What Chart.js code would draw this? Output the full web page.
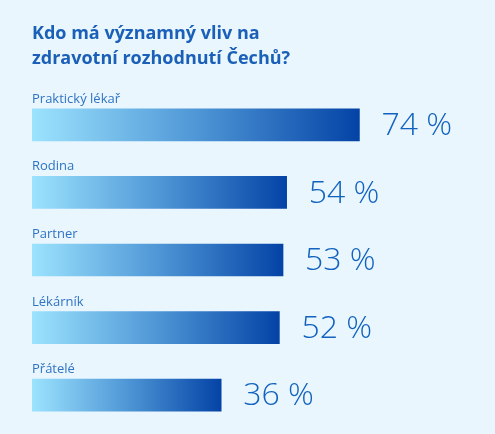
<!DOCTYPE html>
<html lang="cs">
<head>
<meta charset="UTF-8">
<title>Kdo má významný vliv na zdravotní rozhodnutí Čechů?</title>
<script src="https://cdn.jsdelivr.net/npm/chart.js"></script>
<style>
    html, body {
        margin: 0;
        padding: 0;
        background: #e9f6fe;
    }
    #wrap {
        width: 495px;
        height: 434px;
        position: relative;
    }
</style>
</head>
<body>
<div id="wrap"><canvas id="vlivChart"></canvas></div>
<script>
var categories = ['Praktický lékař', 'Rodina', 'Partner', 'Lékárník', 'Přátelé'];
var values = [74, 54, 53, 52, 36];
var valueLabels = ['74 %', '54 %', '53 %', '52 %', '36 %'];
var titleLines = ['Kdo má významný vliv na', 'zdravotní rozhodnutí Čechů?'];

var AXIS_MIN = -16;

// gradient per bar, light cyan on the left to dark blue at the bar's end
function barGradient(context) {
    var chart = context.chart;
    var xScale = chart.scales.x;
    if (!chart.chartArea || !xScale || context.raw === undefined) {
        return '#3a7cc8';
    }
    var x0 = xScale.getPixelForValue(AXIS_MIN);
    var x1 = xScale.getPixelForValue(context.raw);
    var g = chart.ctx.createLinearGradient(x0, 0, x1, 0);
    g.addColorStop(0, '#9ce3fe');
    g.addColorStop(0.5, '#4f97d6');
    g.addColorStop(1, '#0443a6');
    return g;
}

// category name above each bar, value to the right of it
var barTexts = {
    id: 'barTexts',
    afterDatasetsDraw: function (chart) {
        var ctx = chart.ctx;
        var meta = chart.getDatasetMeta(0);
        ctx.save();
        meta.data.forEach(function (bar, i) {
            var top = bar.y - bar.height / 2;
            ctx.fillStyle = '#2f73c4';
            ctx.font = '500 13px "Open Sans"';
            ctx.textAlign = 'left';
            ctx.textBaseline = 'alphabetic';
            ctx.fillText(categories[i], bar.base, top - 6);

            ctx.fillStyle = '#1262bf';
            ctx.font = '300 32px "Open Sans"';
            ctx.textBaseline = 'middle';
            ctx.fillText(valueLabels[i], bar.x + 22, bar.y + 1);
        });
        ctx.restore();
    }
};

var ctx = document.getElementById('vlivChart').getContext('2d');
var vlivChart = new Chart(ctx, {
    type: 'bar',
    data: {
        labels: categories,
        datasets: [{
            data: values,
            base: AXIS_MIN,
            backgroundColor: barGradient,
            borderWidth: 0,
            barThickness: 32
        }]
    },
    options: {
        indexAxis: 'y',
        responsive: true,
        maintainAspectRatio: false,
        animation: false,
        layout: {
            padding: { left: 32, right: 41, top: 0, bottom: 5 }
        },
        scales: {
            x: { display: false, min: AXIS_MIN, max: 100 },
            y: { display: false }
        },
        plugins: {
            legend: { display: false },
            tooltip: { enabled: false },
            title: {
                display: true,
                text: titleLines,
                align: 'start',
                color: '#1a60b8',
                font: { family: 'Open Sans', size: 18, weight: 'bold', lineHeight: 1.39 },
                padding: { top: 21, bottom: 20 }
            }
        }
    },
    plugins: [barTexts]
});
</script>
</body>
</html>
